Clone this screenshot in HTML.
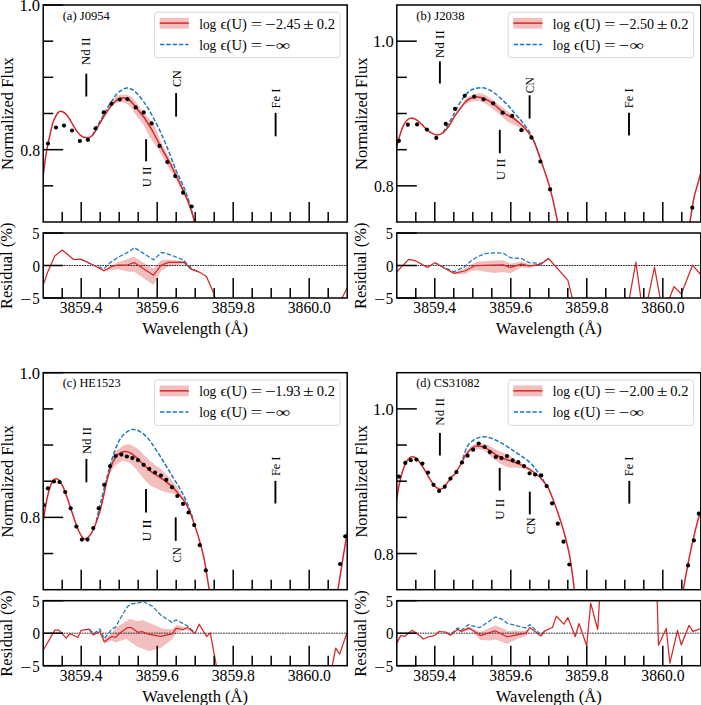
<!DOCTYPE html><html><head><meta charset="utf-8"><style>html,body{margin:0;padding:0;background:#fff;width:701px;height:705px;overflow:hidden}svg{display:block}text{font-family:"Liberation Serif",serif}</style></head><body>
<svg width="701" height="705" viewBox="0 0 701 705">
<rect width="701" height="705" fill="#fff"/>
<clipPath id="c0"><rect x="43.20" y="5.00" width="304.00" height="217.00"/></clipPath>
<clipPath id="r0"><rect x="43.20" y="233.00" width="304.00" height="65.00"/></clipPath>
<g clip-path="url(#c0)">
<path d="M100.00,122.50 C100.67,121.33 102.22,118.42 104.00,115.50 C105.78,112.58 108.63,108.15 110.70,105.00 C112.77,101.85 114.20,98.33 116.40,96.60 C118.60,94.87 121.52,94.60 123.90,94.60 C126.28,94.60 128.85,95.52 130.70,96.60 C132.55,97.68 133.95,99.95 135.00,101.10 C136.05,102.25 135.33,101.35 137.00,103.50 C138.67,105.65 142.18,110.48 145.00,114.00 C147.82,117.52 151.37,120.27 153.90,124.60 C156.43,128.93 157.55,134.35 160.20,140.00 C162.85,145.65 166.77,152.42 169.80,158.50 C172.83,164.58 175.87,170.92 178.40,176.50 C180.93,182.08 182.90,186.92 185.00,192.00 C187.10,197.08 189.33,202.00 191.00,207.00 C192.67,212.00 194.33,219.50 195.00,222.00 L194.00,222.00 C193.33,219.67 191.83,212.67 190.00,208.00 C188.17,203.33 185.37,198.83 183.00,194.00 C180.63,189.17 178.42,183.77 175.80,179.00 C173.18,174.23 170.30,170.52 167.30,165.40 C164.30,160.28 160.62,152.87 157.80,148.30 C154.98,143.73 152.82,141.95 150.40,138.00 C147.98,134.05 145.87,128.65 143.30,124.60 C140.73,120.55 137.10,116.65 135.00,113.70 C132.90,110.75 132.65,108.80 130.70,106.90 C128.75,105.00 125.68,102.97 123.30,102.30 C120.92,101.63 118.50,102.05 116.40,102.90 C114.30,103.75 112.77,105.13 110.70,107.40 C108.63,109.67 105.78,113.98 104.00,116.50 C102.22,119.02 100.67,121.50 100.00,122.50 Z" fill="#f3bebe" stroke="none"/>
<path d="M92.40,135.40 C93.25,133.78 95.85,128.72 97.50,125.70 C99.15,122.68 100.72,120.15 102.30,117.30 C103.88,114.45 105.42,111.30 107.00,108.60 C108.58,105.90 110.20,103.48 111.80,101.10 C113.40,98.72 115.02,96.10 116.60,94.30 C118.18,92.50 119.58,91.35 121.30,90.30 C123.02,89.25 125.00,88.08 126.90,88.00 C128.80,87.92 130.88,88.75 132.70,89.80 C134.52,90.85 136.10,92.48 137.80,94.30 C139.50,96.12 141.18,98.35 142.90,100.70 C144.62,103.05 146.20,105.27 148.10,108.40 C150.00,111.53 152.03,115.13 154.30,119.50 C156.57,123.87 159.22,129.10 161.70,134.60 C164.18,140.10 166.93,146.85 169.20,152.50 C171.47,158.15 173.23,163.53 175.30,168.50 C177.37,173.47 179.57,177.58 181.60,182.30 C183.63,187.02 185.33,190.27 187.50,196.80 C189.67,203.33 193.18,216.30 194.60,221.50 C196.02,226.70 195.77,226.92 196.00,228.00" fill="none" stroke="#1f77b4" stroke-width="1.5" stroke-dasharray="4.4 1.9"/>
<path d="M42.80,180.00 C42.92,178.92 42.97,177.72 43.50,173.50 C44.03,169.28 45.25,159.67 46.00,154.70 C46.75,149.73 47.27,147.35 48.00,143.70 C48.73,140.05 49.58,136.27 50.40,132.80 C51.22,129.33 52.15,125.38 52.90,122.90 C53.65,120.42 53.98,119.65 54.90,117.90 C55.82,116.15 57.23,113.47 58.40,112.40 C59.57,111.33 60.50,111.08 61.90,111.50 C63.30,111.92 65.15,113.00 66.80,114.90 C68.45,116.80 70.30,120.45 71.80,122.90 C73.30,125.35 74.28,127.48 75.80,129.60 C77.32,131.72 79.10,134.25 80.90,135.60 C82.70,136.95 84.68,137.70 86.60,137.70 C88.52,137.70 90.15,138.07 92.40,135.60 C94.65,133.13 97.95,126.43 100.10,122.90 C102.25,119.37 103.58,117.10 105.30,114.40 C107.02,111.70 108.70,108.92 110.40,106.70 C112.10,104.48 113.78,102.50 115.50,101.10 C117.22,99.70 119.27,98.83 120.70,98.30 C122.13,97.77 122.68,97.65 124.10,97.90 C125.52,98.15 127.48,98.55 129.20,99.80 C130.92,101.05 132.68,103.40 134.40,105.40 C136.12,107.40 137.78,109.67 139.50,111.80 C141.22,113.93 142.98,115.77 144.70,118.20 C146.42,120.63 148.32,123.93 149.80,126.40 C151.28,128.87 151.55,129.22 153.60,133.00 C155.65,136.78 159.25,143.85 162.10,149.10 C164.95,154.35 167.88,159.07 170.70,164.50 C173.52,169.93 176.57,176.62 179.00,181.70 C181.43,186.78 183.47,190.83 185.30,195.00 C187.13,199.17 188.45,202.28 190.00,206.70 C191.55,211.12 193.60,217.95 194.60,221.50 C195.60,225.05 195.77,226.92 196.00,228.00" fill="none" stroke="#d62728" stroke-width="1.5"/>
<circle cx="48.00" cy="143.50" r="2.1" fill="#000"/>
<circle cx="56.00" cy="127.50" r="2.1" fill="#000"/>
<circle cx="64.00" cy="125.60" r="2.1" fill="#000"/>
<circle cx="72.00" cy="130.50" r="2.1" fill="#000"/>
<circle cx="79.90" cy="141.00" r="2.1" fill="#000"/>
<circle cx="87.90" cy="139.80" r="2.1" fill="#000"/>
<circle cx="95.60" cy="128.40" r="2.1" fill="#000"/>
<circle cx="103.70" cy="112.40" r="2.1" fill="#000"/>
<circle cx="111.50" cy="103.80" r="2.1" fill="#000"/>
<circle cx="119.70" cy="99.50" r="2.1" fill="#000"/>
<circle cx="127.50" cy="99.20" r="2.1" fill="#000"/>
<circle cx="135.70" cy="107.40" r="2.1" fill="#000"/>
<circle cx="143.70" cy="112.40" r="2.1" fill="#000"/>
<circle cx="151.60" cy="123.40" r="2.1" fill="#000"/>
<circle cx="159.60" cy="145.90" r="2.1" fill="#000"/>
<circle cx="167.40" cy="162.00" r="2.1" fill="#000"/>
<circle cx="175.30" cy="176.10" r="2.1" fill="#000"/>
<circle cx="183.10" cy="192.70" r="2.1" fill="#000"/>
<circle cx="191.70" cy="206.50" r="2.1" fill="#000"/>
</g>
<line x1="86.30" y1="73.70" x2="86.30" y2="96.50" stroke="#000" stroke-width="1.9"/>
<text x="90.00" y="65.17" font-size="12.80" fill="#000" textLength="27.73" lengthAdjust="spacingAndGlyphs" transform="rotate(-90 90.00 65.17)">Nd II</text>
<line x1="146.10" y1="139.20" x2="146.10" y2="161.30" stroke="#000" stroke-width="1.9"/>
<text x="150.90" y="187.26" font-size="12.80" fill="#000" textLength="20.61" lengthAdjust="spacingAndGlyphs" transform="rotate(-90 150.90 187.26)">U II</text>
<line x1="176.10" y1="93.10" x2="176.10" y2="116.60" stroke="#000" stroke-width="1.9"/>
<text x="181.30" y="87.00" font-size="12.80" fill="#000" textLength="16.77" lengthAdjust="spacingAndGlyphs" transform="rotate(-90 181.30 87.00)">CN</text>
<line x1="275.60" y1="112.80" x2="275.60" y2="136.30" stroke="#000" stroke-width="1.9"/>
<text x="280.20" y="108.46" font-size="12.80" fill="#000" textLength="19.90" lengthAdjust="spacingAndGlyphs" transform="rotate(-90 280.20 108.46)">Fe I</text>
<g clip-path="url(#r0)">
<path d="M93.70,265.30 L103.90,270.10 L117.10,262.40 L125.70,259.80 L134.20,256.80 L153.50,268.80 L161.00,260.30 L168.30,259.40 L184.10,261.50 L191.00,269.20 L191.00,269.20 L184.10,263.70 L168.30,266.70 L161.00,271.00 L153.50,285.10 L134.20,271.80 L127.40,271.40 L117.10,269.20 L103.90,271.40 L93.70,265.30 Z" fill="#f3bebe" stroke="none"/>
<line x1="43.20" y1="265.50" x2="347.20" y2="265.50" stroke="#000" stroke-width="0.85" stroke-dasharray="1.7 0.87"/>
<path d="M81.10,259.20 L93.70,265.30 L103.90,268.70 L110.30,262.40 L118.80,256.80 L125.70,253.40 L134.70,247.70 L153.50,259.80 L161.40,252.60 L165.30,253.00 L183.30,259.80 L191.80,268.80 L198.70,271.80" fill="none" stroke="#1f77b4" stroke-width="1.25" stroke-dasharray="4.4 1.9"/>
<path d="M43.00,284.50 L44.00,282.90 L47.40,272.70 L54.80,255.90 L62.30,250.10 L73.70,259.50 L81.10,259.20 L93.70,265.30 L103.90,270.70 L111.10,266.70 L118.00,265.00 L127.40,265.00 L134.20,262.60 L153.50,275.20 L161.00,265.40 L168.30,262.40 L184.10,262.20 L191.00,269.20 L198.70,271.80 L206.40,276.50 L214.10,294.10 L215.50,300.00" fill="none" stroke="#d62728" stroke-width="1.25" stroke-linejoin="round"/>
<path d="M341.00,300.00 L346.00,290.20 L348.00,286.00" fill="none" stroke="#d62728" stroke-width="1.25" stroke-linejoin="round"/>
</g>
<line x1="62.20" y1="222.00" x2="62.20" y2="212.00" stroke="#000" stroke-width="1.5"/>
<line x1="62.20" y1="298.00" x2="62.20" y2="288.00" stroke="#000" stroke-width="1.5"/>
<line x1="81.20" y1="222.00" x2="81.20" y2="202.00" stroke="#000" stroke-width="1.5"/>
<line x1="81.20" y1="298.00" x2="81.20" y2="278.00" stroke="#000" stroke-width="1.5"/>
<line x1="100.20" y1="222.00" x2="100.20" y2="212.00" stroke="#000" stroke-width="1.5"/>
<line x1="100.20" y1="298.00" x2="100.20" y2="288.00" stroke="#000" stroke-width="1.5"/>
<line x1="119.20" y1="222.00" x2="119.20" y2="212.00" stroke="#000" stroke-width="1.5"/>
<line x1="119.20" y1="298.00" x2="119.20" y2="288.00" stroke="#000" stroke-width="1.5"/>
<line x1="138.20" y1="222.00" x2="138.20" y2="212.00" stroke="#000" stroke-width="1.5"/>
<line x1="138.20" y1="298.00" x2="138.20" y2="288.00" stroke="#000" stroke-width="1.5"/>
<line x1="157.20" y1="222.00" x2="157.20" y2="202.00" stroke="#000" stroke-width="1.5"/>
<line x1="157.20" y1="298.00" x2="157.20" y2="278.00" stroke="#000" stroke-width="1.5"/>
<line x1="176.20" y1="222.00" x2="176.20" y2="212.00" stroke="#000" stroke-width="1.5"/>
<line x1="176.20" y1="298.00" x2="176.20" y2="288.00" stroke="#000" stroke-width="1.5"/>
<line x1="195.20" y1="222.00" x2="195.20" y2="212.00" stroke="#000" stroke-width="1.5"/>
<line x1="195.20" y1="298.00" x2="195.20" y2="288.00" stroke="#000" stroke-width="1.5"/>
<line x1="214.20" y1="222.00" x2="214.20" y2="212.00" stroke="#000" stroke-width="1.5"/>
<line x1="214.20" y1="298.00" x2="214.20" y2="288.00" stroke="#000" stroke-width="1.5"/>
<line x1="233.20" y1="222.00" x2="233.20" y2="202.00" stroke="#000" stroke-width="1.5"/>
<line x1="233.20" y1="298.00" x2="233.20" y2="278.00" stroke="#000" stroke-width="1.5"/>
<line x1="252.20" y1="222.00" x2="252.20" y2="212.00" stroke="#000" stroke-width="1.5"/>
<line x1="252.20" y1="298.00" x2="252.20" y2="288.00" stroke="#000" stroke-width="1.5"/>
<line x1="271.20" y1="222.00" x2="271.20" y2="212.00" stroke="#000" stroke-width="1.5"/>
<line x1="271.20" y1="298.00" x2="271.20" y2="288.00" stroke="#000" stroke-width="1.5"/>
<line x1="290.20" y1="222.00" x2="290.20" y2="212.00" stroke="#000" stroke-width="1.5"/>
<line x1="290.20" y1="298.00" x2="290.20" y2="288.00" stroke="#000" stroke-width="1.5"/>
<line x1="309.20" y1="222.00" x2="309.20" y2="202.00" stroke="#000" stroke-width="1.5"/>
<line x1="309.20" y1="298.00" x2="309.20" y2="278.00" stroke="#000" stroke-width="1.5"/>
<line x1="328.20" y1="222.00" x2="328.20" y2="212.00" stroke="#000" stroke-width="1.5"/>
<line x1="328.20" y1="298.00" x2="328.20" y2="288.00" stroke="#000" stroke-width="1.5"/>
<line x1="43.20" y1="185.83" x2="53.20" y2="185.83" stroke="#000" stroke-width="1.5"/>
<line x1="43.20" y1="149.67" x2="63.20" y2="149.67" stroke="#000" stroke-width="1.5"/>
<line x1="43.20" y1="113.50" x2="53.20" y2="113.50" stroke="#000" stroke-width="1.5"/>
<line x1="43.20" y1="77.33" x2="53.20" y2="77.33" stroke="#000" stroke-width="1.5"/>
<line x1="43.20" y1="41.17" x2="53.20" y2="41.17" stroke="#000" stroke-width="1.5"/>
<line x1="43.20" y1="5.00" x2="63.20" y2="5.00" stroke="#000" stroke-width="1.5"/>
<line x1="43.20" y1="298.00" x2="63.20" y2="298.00" stroke="#000" stroke-width="1.5"/>
<line x1="43.20" y1="265.50" x2="63.20" y2="265.50" stroke="#000" stroke-width="1.5"/>
<line x1="43.20" y1="233.00" x2="63.20" y2="233.00" stroke="#000" stroke-width="1.5"/>
<rect x="43.20" y="5.00" width="304.00" height="217.00" fill="none" stroke="#000" stroke-width="1.5"/>
<rect x="43.20" y="233.00" width="304.00" height="65.00" fill="none" stroke="#000" stroke-width="1.5"/>
<text x="20.30" y="155.77" font-size="16.00" fill="#000" textLength="19.81" lengthAdjust="spacingAndGlyphs">0.8</text>
<text x="19.45" y="11.10" font-size="16.00" fill="#000" textLength="20.68" lengthAdjust="spacingAndGlyphs">1.0</text>
<text x="32.26" y="239.20" font-size="16.00" fill="#000" textLength="7.20" lengthAdjust="spacingAndGlyphs">5</text>
<text x="32.52" y="271.50" font-size="16.00" fill="#000" textLength="7.55" lengthAdjust="spacingAndGlyphs">0</text>
<text x="20.32" y="305.20" font-size="16.00" fill="#000" textLength="11.15" lengthAdjust="spacingAndGlyphs">−</text>
<text x="32.23" y="304.20" font-size="16.00" fill="#000" textLength="7.45" lengthAdjust="spacingAndGlyphs">5</text>
<text x="59.76" y="313.10" font-size="16.00" fill="#000" textLength="42.79" lengthAdjust="spacingAndGlyphs">3859.4</text>
<text x="135.75" y="313.10" font-size="16.00" fill="#000" textLength="43.01" lengthAdjust="spacingAndGlyphs">3859.6</text>
<text x="211.75" y="313.10" font-size="16.00" fill="#000" textLength="43.15" lengthAdjust="spacingAndGlyphs">3859.8</text>
<text x="287.75" y="313.10" font-size="16.00" fill="#000" textLength="43.15" lengthAdjust="spacingAndGlyphs">3860.0</text>
<text x="142.18" y="333.90" font-size="16.50" fill="#000" textLength="105.94" lengthAdjust="spacingAndGlyphs">Wavelength (Å)</text>
<text x="13.30" y="169.88" font-size="16.00" fill="#000" textLength="112.28" lengthAdjust="spacingAndGlyphs" transform="rotate(-90 13.30 169.88)">Normalized Flux</text>
<text x="12.50" y="308.97" font-size="16.00" fill="#000" textLength="86.50" lengthAdjust="spacingAndGlyphs" transform="rotate(-90 12.50 308.97)">Residual (%)</text>
<text x="62.65" y="19.60" font-size="12.00" fill="#000" textLength="47.25" lengthAdjust="spacingAndGlyphs">(a) J0954</text>
<rect x="154.60" y="12.20" width="185.50" height="45.50" rx="3" ry="3" fill="#fff" fill-opacity="0.8" stroke="#d9d9d9" stroke-width="1"/>
<rect x="159.70" y="17.80" width="29.1" height="10.8" fill="#f3bebe"/>
<line x1="159.70" y1="23.10" x2="188.80" y2="23.10" stroke="#d62728" stroke-width="1.5"/>
<line x1="160.00" y1="44.40" x2="188.50" y2="44.40" stroke="#1f77b4" stroke-width="1.5" stroke-dasharray="4.4 1.9"/>
<text x="199.23" y="28.70" font-size="14.00" fill="#000" textLength="17.02" lengthAdjust="spacingAndGlyphs">log</text>
<text x="220.43" y="28.70" font-size="14.00" fill="#000" textLength="6.09" lengthAdjust="spacingAndGlyphs">ϵ</text>
<text x="226.56" y="28.70" font-size="14.00" fill="#000" textLength="20.18" lengthAdjust="spacingAndGlyphs">(U)</text>
<text x="250.46" y="28.70" font-size="14.00" fill="#000" textLength="11.76" lengthAdjust="spacingAndGlyphs">=</text>
<text x="265.26" y="28.70" font-size="14.00" fill="#000" textLength="10.67" lengthAdjust="spacingAndGlyphs">−</text>
<text x="275.98" y="28.70" font-size="14.00" fill="#000" textLength="24.57" lengthAdjust="spacingAndGlyphs">2.45</text>
<text x="303.08" y="28.70" font-size="14.00" fill="#000" textLength="10.85" lengthAdjust="spacingAndGlyphs">±</text>
<text x="316.75" y="28.70" font-size="14.00" fill="#000" textLength="18.15" lengthAdjust="spacingAndGlyphs">0.2</text>
<text x="199.23" y="49.60" font-size="14.00" fill="#000" textLength="17.02" lengthAdjust="spacingAndGlyphs">log</text>
<text x="220.43" y="49.60" font-size="14.00" fill="#000" textLength="6.09" lengthAdjust="spacingAndGlyphs">ϵ</text>
<text x="226.56" y="49.60" font-size="14.00" fill="#000" textLength="20.18" lengthAdjust="spacingAndGlyphs">(U)</text>
<text x="250.46" y="49.60" font-size="14.00" fill="#000" textLength="11.76" lengthAdjust="spacingAndGlyphs">=</text>
<text x="265.26" y="49.60" font-size="14.00" fill="#000" textLength="10.67" lengthAdjust="spacingAndGlyphs">−</text>
<text x="275.84" y="49.60" font-size="14.00" fill="#000" textLength="14.43" lengthAdjust="spacingAndGlyphs">∞</text>
<clipPath id="c1"><rect x="396.80" y="5.00" width="304.00" height="217.00"/></clipPath>
<clipPath id="r1"><rect x="396.80" y="233.00" width="304.00" height="65.00"/></clipPath>
<g clip-path="url(#c1)">
<path d="M455.10,115.20 C455.97,113.78 458.30,109.62 460.30,106.70 C462.30,103.78 464.25,99.92 467.10,97.70 C469.95,95.48 474.25,93.77 477.40,93.40 C480.55,93.03 482.87,94.00 486.00,95.50 C489.13,97.00 493.07,100.12 496.20,102.40 C499.33,104.68 502.50,107.42 504.80,109.20 C507.10,110.98 508.53,112.07 510.00,113.10 C511.47,114.13 511.58,113.45 513.60,115.40 C515.62,117.35 519.37,121.70 522.10,124.80 C524.83,127.90 528.68,132.47 530.00,134.00 L530.00,134.50 C528.68,133.60 524.83,130.72 522.10,129.10 C519.37,127.48 515.62,125.82 513.60,124.80 C511.58,123.78 511.47,123.88 510.00,123.00 C508.53,122.12 507.10,121.37 504.80,119.50 C502.50,117.63 499.33,114.37 496.20,111.80 C493.07,109.23 489.13,105.88 486.00,104.10 C482.87,102.32 480.55,101.23 477.40,101.10 C474.25,100.97 469.95,101.87 467.10,103.30 C464.25,104.73 462.30,107.55 460.30,109.70 C458.30,111.85 455.97,115.12 455.10,116.20 Z" fill="#f3bebe" stroke="none"/>
<path d="M442.90,132.60 C444.08,130.70 447.97,124.67 450.00,121.20 C452.03,117.73 453.38,114.93 455.10,111.80 C456.82,108.67 458.58,105.18 460.30,102.40 C462.02,99.62 463.70,97.10 465.40,95.10 C467.10,93.10 468.78,91.53 470.50,90.40 C472.22,89.27 473.83,88.75 475.70,88.30 C477.57,87.85 479.70,87.57 481.70,87.70 C483.70,87.83 485.57,88.22 487.70,89.10 C489.83,89.98 492.22,91.35 494.50,93.00 C496.78,94.65 499.12,96.87 501.40,99.00 C503.68,101.13 506.17,103.63 508.20,105.80 C510.23,107.97 511.28,109.33 513.60,112.00 C515.92,114.67 519.40,118.38 522.10,121.80 C524.80,125.22 527.65,128.85 529.80,132.50 C531.95,136.15 532.83,138.12 535.00,143.70 C537.17,149.28 541.50,162.28 542.80,166.00" fill="none" stroke="#1f77b4" stroke-width="1.5" stroke-dasharray="4.4 1.9"/>
<path d="M395.50,152.00 C395.70,151.08 395.93,149.42 396.70,146.50 C397.47,143.58 398.95,138.07 400.10,134.50 C401.25,130.93 402.32,127.60 403.60,125.10 C404.88,122.60 406.38,120.67 407.80,119.50 C409.22,118.33 410.52,117.95 412.10,118.10 C413.68,118.25 415.58,119.23 417.30,120.40 C419.02,121.57 420.70,123.47 422.40,125.10 C424.10,126.73 425.78,128.77 427.50,130.20 C429.22,131.63 431.12,132.90 432.70,133.70 C434.28,134.50 435.30,135.15 437.00,135.00 C438.70,134.85 440.92,134.30 442.90,132.80 C444.88,131.30 446.87,128.85 448.90,126.00 C450.93,123.15 453.20,118.63 455.10,115.70 C457.00,112.77 458.58,110.68 460.30,108.40 C462.02,106.12 463.70,103.68 465.40,102.00 C467.10,100.32 468.78,99.12 470.50,98.30 C472.22,97.48 473.98,97.25 475.70,97.10 C477.42,96.95 479.08,97.02 480.80,97.40 C482.52,97.78 484.28,98.60 486.00,99.40 C487.72,100.20 489.40,101.05 491.10,102.20 C492.80,103.35 494.48,104.83 496.20,106.30 C497.92,107.77 499.68,109.62 501.40,111.00 C503.12,112.38 504.47,113.37 506.50,114.60 C508.53,115.83 511.00,116.62 513.60,118.40 C516.20,120.18 519.53,122.80 522.10,125.30 C524.67,127.80 526.85,130.33 529.00,133.40 C531.15,136.47 532.70,138.27 535.00,143.70 C537.30,149.13 540.45,159.10 542.80,166.00 C545.15,172.90 547.33,179.08 549.10,185.10 C550.87,191.12 552.02,196.12 553.40,202.10 C554.78,208.08 556.55,216.68 557.40,221.00 C558.25,225.32 558.32,226.83 558.50,228.00" fill="none" stroke="#d62728" stroke-width="1.5"/>
<path d="M689.00,228.00 C689.17,226.93 689.17,226.65 690.00,221.60 C690.83,216.55 692.77,203.77 694.00,197.70 C695.23,191.63 696.37,188.98 697.40,185.20 C698.43,181.42 699.43,177.87 700.20,175.00 C700.97,172.13 701.70,169.17 702.00,168.00" fill="none" stroke="#d62728" stroke-width="1.5"/>
<circle cx="398.90" cy="140.80" r="2.1" fill="#000"/>
<circle cx="407.80" cy="124.70" r="2.1" fill="#000"/>
<circle cx="417.10" cy="124.40" r="2.1" fill="#000"/>
<circle cx="426.90" cy="129.60" r="2.1" fill="#000"/>
<circle cx="436.30" cy="137.90" r="2.1" fill="#000"/>
<circle cx="445.70" cy="123.80" r="2.1" fill="#000"/>
<circle cx="455.00" cy="108.80" r="2.1" fill="#000"/>
<circle cx="464.70" cy="95.80" r="2.1" fill="#000"/>
<circle cx="474.20" cy="96.70" r="2.1" fill="#000"/>
<circle cx="483.60" cy="99.30" r="2.1" fill="#000"/>
<circle cx="493.20" cy="103.30" r="2.1" fill="#000"/>
<circle cx="502.70" cy="112.70" r="2.1" fill="#000"/>
<circle cx="512.20" cy="115.90" r="2.1" fill="#000"/>
<circle cx="521.40" cy="130.20" r="2.1" fill="#000"/>
<circle cx="531.40" cy="137.60" r="2.1" fill="#000"/>
<circle cx="540.40" cy="161.50" r="2.1" fill="#000"/>
<circle cx="550.10" cy="189.40" r="2.1" fill="#000"/>
<circle cx="692.30" cy="207.70" r="2.1" fill="#000"/>
</g>
<line x1="439.90" y1="61.40" x2="439.90" y2="83.50" stroke="#000" stroke-width="1.9"/>
<text x="444.40" y="58.18" font-size="12.80" fill="#000" textLength="27.94" lengthAdjust="spacingAndGlyphs" transform="rotate(-90 444.40 58.18)">Nd II</text>
<line x1="499.80" y1="129.80" x2="499.80" y2="153.30" stroke="#000" stroke-width="1.9"/>
<text x="505.00" y="180.28" font-size="12.80" fill="#000" textLength="21.54" lengthAdjust="spacingAndGlyphs" transform="rotate(-90 505.00 180.28)">U II</text>
<line x1="529.60" y1="95.30" x2="529.60" y2="118.50" stroke="#000" stroke-width="1.9"/>
<text x="534.20" y="93.17" font-size="12.80" fill="#000" textLength="15.93" lengthAdjust="spacingAndGlyphs" transform="rotate(-90 534.20 93.17)">CN</text>
<line x1="629.00" y1="112.80" x2="629.00" y2="135.60" stroke="#000" stroke-width="1.9"/>
<text x="633.00" y="108.16" font-size="12.80" fill="#000" textLength="19.70" lengthAdjust="spacingAndGlyphs" transform="rotate(-90 633.00 108.16)">Fe I</text>
<g clip-path="url(#r1)">
<path d="M444.10,268.00 L453.80,272.50 L464.60,269.10 L470.00,265.10 L476.80,261.70 L494.00,260.50 L503.10,260.30 L510.50,263.40 L521.40,261.50 L529.40,264.50 L540.80,264.20 L540.80,264.90 L529.40,268.00 L521.40,267.40 L510.50,273.30 L503.10,272.00 L494.00,273.10 L476.80,270.30 L470.00,271.40 L464.60,274.20 L453.80,274.20 L444.10,268.00 Z" fill="#f3bebe" stroke="none"/>
<line x1="396.80" y1="265.50" x2="700.80" y2="265.50" stroke="#000" stroke-width="0.85" stroke-dasharray="1.7 0.87"/>
<path d="M435.00,262.80 L444.10,267.40 L453.80,271.70 L464.60,266.80 L470.00,261.70 L476.80,257.10 L484.80,253.70 L494.00,252.80 L503.10,253.10 L510.50,257.70 L521.40,258.50 L529.40,262.80 L540.80,263.40 L548.60,258.50" fill="none" stroke="#1f77b4" stroke-width="1.25" stroke-dasharray="4.4 1.9"/>
<path d="M396.50,272.50 L397.30,271.40 L408.70,259.40 L415.50,260.80 L427.50,267.40 L435.00,262.80 L444.10,268.00 L453.80,273.30 L464.60,271.00 L475.00,265.70 L483.70,265.30 L503.10,264.90 L510.50,267.40 L521.40,264.20 L529.40,266.00 L540.80,264.20 L548.60,258.50 L567.80,280.10 L573.50,303.00" fill="none" stroke="#d62728" stroke-width="1.25" stroke-linejoin="round"/>
<path d="M628.50,303.00 L635.90,262.10 L641.50,303.00 L647.00,303.00 L654.50,267.20 L661.00,303.00 L667.50,303.00 L674.10,286.60 L681.30,294.00 L692.50,265.20 L701.00,275.00" fill="none" stroke="#d62728" stroke-width="1.25" stroke-linejoin="round"/>
<path d="M585.50,300.00 L586.50,296.30 L587.50,300.00" fill="none" stroke="#d62728" stroke-width="1.25" stroke-linejoin="round"/>
</g>
<line x1="415.80" y1="222.00" x2="415.80" y2="212.00" stroke="#000" stroke-width="1.5"/>
<line x1="415.80" y1="298.00" x2="415.80" y2="288.00" stroke="#000" stroke-width="1.5"/>
<line x1="434.80" y1="222.00" x2="434.80" y2="202.00" stroke="#000" stroke-width="1.5"/>
<line x1="434.80" y1="298.00" x2="434.80" y2="278.00" stroke="#000" stroke-width="1.5"/>
<line x1="453.80" y1="222.00" x2="453.80" y2="212.00" stroke="#000" stroke-width="1.5"/>
<line x1="453.80" y1="298.00" x2="453.80" y2="288.00" stroke="#000" stroke-width="1.5"/>
<line x1="472.80" y1="222.00" x2="472.80" y2="212.00" stroke="#000" stroke-width="1.5"/>
<line x1="472.80" y1="298.00" x2="472.80" y2="288.00" stroke="#000" stroke-width="1.5"/>
<line x1="491.80" y1="222.00" x2="491.80" y2="212.00" stroke="#000" stroke-width="1.5"/>
<line x1="491.80" y1="298.00" x2="491.80" y2="288.00" stroke="#000" stroke-width="1.5"/>
<line x1="510.80" y1="222.00" x2="510.80" y2="202.00" stroke="#000" stroke-width="1.5"/>
<line x1="510.80" y1="298.00" x2="510.80" y2="278.00" stroke="#000" stroke-width="1.5"/>
<line x1="529.80" y1="222.00" x2="529.80" y2="212.00" stroke="#000" stroke-width="1.5"/>
<line x1="529.80" y1="298.00" x2="529.80" y2="288.00" stroke="#000" stroke-width="1.5"/>
<line x1="548.80" y1="222.00" x2="548.80" y2="212.00" stroke="#000" stroke-width="1.5"/>
<line x1="548.80" y1="298.00" x2="548.80" y2="288.00" stroke="#000" stroke-width="1.5"/>
<line x1="567.80" y1="222.00" x2="567.80" y2="212.00" stroke="#000" stroke-width="1.5"/>
<line x1="567.80" y1="298.00" x2="567.80" y2="288.00" stroke="#000" stroke-width="1.5"/>
<line x1="586.80" y1="222.00" x2="586.80" y2="202.00" stroke="#000" stroke-width="1.5"/>
<line x1="586.80" y1="298.00" x2="586.80" y2="278.00" stroke="#000" stroke-width="1.5"/>
<line x1="605.80" y1="222.00" x2="605.80" y2="212.00" stroke="#000" stroke-width="1.5"/>
<line x1="605.80" y1="298.00" x2="605.80" y2="288.00" stroke="#000" stroke-width="1.5"/>
<line x1="624.80" y1="222.00" x2="624.80" y2="212.00" stroke="#000" stroke-width="1.5"/>
<line x1="624.80" y1="298.00" x2="624.80" y2="288.00" stroke="#000" stroke-width="1.5"/>
<line x1="643.80" y1="222.00" x2="643.80" y2="212.00" stroke="#000" stroke-width="1.5"/>
<line x1="643.80" y1="298.00" x2="643.80" y2="288.00" stroke="#000" stroke-width="1.5"/>
<line x1="662.80" y1="222.00" x2="662.80" y2="202.00" stroke="#000" stroke-width="1.5"/>
<line x1="662.80" y1="298.00" x2="662.80" y2="278.00" stroke="#000" stroke-width="1.5"/>
<line x1="681.80" y1="222.00" x2="681.80" y2="212.00" stroke="#000" stroke-width="1.5"/>
<line x1="681.80" y1="298.00" x2="681.80" y2="288.00" stroke="#000" stroke-width="1.5"/>
<line x1="396.80" y1="185.83" x2="416.80" y2="185.83" stroke="#000" stroke-width="1.5"/>
<line x1="396.80" y1="149.67" x2="406.80" y2="149.67" stroke="#000" stroke-width="1.5"/>
<line x1="396.80" y1="113.50" x2="406.80" y2="113.50" stroke="#000" stroke-width="1.5"/>
<line x1="396.80" y1="77.33" x2="406.80" y2="77.33" stroke="#000" stroke-width="1.5"/>
<line x1="396.80" y1="41.17" x2="416.80" y2="41.17" stroke="#000" stroke-width="1.5"/>
<line x1="396.80" y1="298.00" x2="416.80" y2="298.00" stroke="#000" stroke-width="1.5"/>
<line x1="396.80" y1="265.50" x2="416.80" y2="265.50" stroke="#000" stroke-width="1.5"/>
<line x1="396.80" y1="233.00" x2="416.80" y2="233.00" stroke="#000" stroke-width="1.5"/>
<rect x="396.80" y="5.00" width="304.00" height="217.00" fill="none" stroke="#000" stroke-width="1.5"/>
<rect x="396.80" y="233.00" width="304.00" height="65.00" fill="none" stroke="#000" stroke-width="1.5"/>
<text x="373.90" y="191.93" font-size="16.00" fill="#000" textLength="19.81" lengthAdjust="spacingAndGlyphs">0.8</text>
<text x="373.05" y="47.27" font-size="16.00" fill="#000" textLength="20.68" lengthAdjust="spacingAndGlyphs">1.0</text>
<text x="385.86" y="239.20" font-size="16.00" fill="#000" textLength="7.20" lengthAdjust="spacingAndGlyphs">5</text>
<text x="386.12" y="271.50" font-size="16.00" fill="#000" textLength="7.55" lengthAdjust="spacingAndGlyphs">0</text>
<text x="373.92" y="305.20" font-size="16.00" fill="#000" textLength="11.15" lengthAdjust="spacingAndGlyphs">−</text>
<text x="385.83" y="304.20" font-size="16.00" fill="#000" textLength="7.45" lengthAdjust="spacingAndGlyphs">5</text>
<text x="413.36" y="313.10" font-size="16.00" fill="#000" textLength="42.79" lengthAdjust="spacingAndGlyphs">3859.4</text>
<text x="489.35" y="313.10" font-size="16.00" fill="#000" textLength="43.01" lengthAdjust="spacingAndGlyphs">3859.6</text>
<text x="565.35" y="313.10" font-size="16.00" fill="#000" textLength="43.15" lengthAdjust="spacingAndGlyphs">3859.8</text>
<text x="641.35" y="313.10" font-size="16.00" fill="#000" textLength="43.15" lengthAdjust="spacingAndGlyphs">3860.0</text>
<text x="495.78" y="333.90" font-size="16.50" fill="#000" textLength="105.94" lengthAdjust="spacingAndGlyphs">Wavelength (Å)</text>
<text x="366.90" y="169.88" font-size="16.00" fill="#000" textLength="112.28" lengthAdjust="spacingAndGlyphs" transform="rotate(-90 366.90 169.88)">Normalized Flux</text>
<text x="366.10" y="308.97" font-size="16.00" fill="#000" textLength="86.50" lengthAdjust="spacingAndGlyphs" transform="rotate(-90 366.10 308.97)">Residual (%)</text>
<text x="416.24" y="19.60" font-size="12.00" fill="#000" textLength="48.34" lengthAdjust="spacingAndGlyphs">(b) J2038</text>
<rect x="508.20" y="12.20" width="185.50" height="45.50" rx="3" ry="3" fill="#fff" fill-opacity="0.8" stroke="#d9d9d9" stroke-width="1"/>
<rect x="513.30" y="17.80" width="29.1" height="10.8" fill="#f3bebe"/>
<line x1="513.30" y1="23.10" x2="542.40" y2="23.10" stroke="#d62728" stroke-width="1.5"/>
<line x1="513.60" y1="44.40" x2="542.10" y2="44.40" stroke="#1f77b4" stroke-width="1.5" stroke-dasharray="4.4 1.9"/>
<text x="552.83" y="28.70" font-size="14.00" fill="#000" textLength="17.02" lengthAdjust="spacingAndGlyphs">log</text>
<text x="574.03" y="28.70" font-size="14.00" fill="#000" textLength="6.09" lengthAdjust="spacingAndGlyphs">ϵ</text>
<text x="580.16" y="28.70" font-size="14.00" fill="#000" textLength="20.18" lengthAdjust="spacingAndGlyphs">(U)</text>
<text x="604.06" y="28.70" font-size="14.00" fill="#000" textLength="11.76" lengthAdjust="spacingAndGlyphs">=</text>
<text x="618.86" y="28.70" font-size="14.00" fill="#000" textLength="10.67" lengthAdjust="spacingAndGlyphs">−</text>
<text x="629.58" y="28.70" font-size="14.00" fill="#000" textLength="24.55" lengthAdjust="spacingAndGlyphs">2.50</text>
<text x="656.68" y="28.70" font-size="14.00" fill="#000" textLength="10.85" lengthAdjust="spacingAndGlyphs">±</text>
<text x="670.35" y="28.70" font-size="14.00" fill="#000" textLength="18.15" lengthAdjust="spacingAndGlyphs">0.2</text>
<text x="552.83" y="49.60" font-size="14.00" fill="#000" textLength="17.02" lengthAdjust="spacingAndGlyphs">log</text>
<text x="574.03" y="49.60" font-size="14.00" fill="#000" textLength="6.09" lengthAdjust="spacingAndGlyphs">ϵ</text>
<text x="580.16" y="49.60" font-size="14.00" fill="#000" textLength="20.18" lengthAdjust="spacingAndGlyphs">(U)</text>
<text x="604.06" y="49.60" font-size="14.00" fill="#000" textLength="11.76" lengthAdjust="spacingAndGlyphs">=</text>
<text x="618.86" y="49.60" font-size="14.00" fill="#000" textLength="10.67" lengthAdjust="spacingAndGlyphs">−</text>
<text x="629.44" y="49.60" font-size="14.00" fill="#000" textLength="14.43" lengthAdjust="spacingAndGlyphs">∞</text>
<clipPath id="c2"><rect x="43.20" y="372.70" width="304.00" height="217.00"/></clipPath>
<clipPath id="r2"><rect x="43.20" y="600.70" width="304.00" height="65.00"/></clipPath>
<g clip-path="url(#c2)">
<path d="M102.00,500.00 C102.97,496.08 105.77,484.10 107.80,476.50 C109.83,468.90 112.08,459.25 114.20,454.40 C116.32,449.55 118.17,449.10 120.50,447.40 C122.83,445.70 125.43,444.00 128.20,444.20 C130.97,444.40 134.12,446.48 137.10,448.60 C140.08,450.72 143.22,454.23 146.10,456.90 C148.98,459.57 151.62,462.27 154.40,464.60 C157.18,466.93 159.28,467.52 162.80,470.90 C166.32,474.28 172.32,480.87 175.50,484.90 C178.68,488.93 180.15,492.08 181.90,495.10 C183.65,498.12 185.32,501.68 186.00,503.00 L186.00,503.00 C185.12,501.90 182.45,497.82 180.70,496.40 C178.95,494.98 178.48,495.35 175.50,494.50 C172.52,493.65 166.32,492.45 162.80,491.30 C159.28,490.15 156.55,488.65 154.40,487.60 C152.25,486.55 151.72,486.50 149.90,485.00 C148.08,483.50 146.27,481.78 143.50,478.60 C140.73,475.42 136.48,468.83 133.30,465.90 C130.12,462.97 126.53,461.65 124.40,461.00 C122.27,460.35 122.20,460.98 120.50,462.00 C118.80,463.02 116.32,464.35 114.20,467.10 C112.08,469.85 109.83,473.02 107.80,478.50 C105.77,483.98 102.97,496.42 102.00,500.00 Z" fill="#f3bebe" stroke="none"/>
<path d="M96.20,521.50 C96.63,519.67 97.30,516.72 98.80,510.50 C100.30,504.28 103.07,492.53 105.20,484.20 C107.33,475.87 109.47,467.38 111.60,460.50 C113.73,453.62 115.87,447.33 118.00,442.90 C120.13,438.47 122.07,436.13 124.40,433.90 C126.73,431.67 129.45,429.92 132.00,429.50 C134.55,429.08 137.13,430.02 139.70,431.40 C142.27,432.78 144.95,435.17 147.40,437.80 C149.85,440.43 151.42,442.75 154.40,447.20 C157.38,451.65 162.20,459.48 165.30,464.50 C168.40,469.52 170.43,473.05 173.00,477.30 C175.57,481.55 178.37,485.75 180.70,490.00 C183.03,494.25 184.98,498.13 187.00,502.80 C189.02,507.47 191.83,515.47 192.80,518.00" fill="none" stroke="#1f77b4" stroke-width="1.5" stroke-dasharray="4.4 1.9"/>
<path d="M42.50,527.00 C42.72,525.38 43.15,521.48 43.80,517.30 C44.45,513.12 45.43,506.70 46.40,501.90 C47.37,497.10 48.53,492.00 49.60,488.50 C50.67,485.00 51.73,482.53 52.80,480.90 C53.87,479.27 54.93,478.82 56.00,478.70 C57.07,478.58 58.03,478.88 59.20,480.20 C60.37,481.52 61.73,483.83 63.00,486.60 C64.27,489.37 65.52,493.18 66.80,496.80 C68.08,500.42 69.42,504.47 70.70,508.30 C71.98,512.13 73.23,516.18 74.50,519.80 C75.77,523.42 77.03,527.13 78.30,530.00 C79.57,532.87 81.03,535.50 82.10,537.00 C83.17,538.50 83.63,539.00 84.70,539.00 C85.77,539.00 87.22,538.28 88.50,537.00 C89.78,535.72 91.12,533.73 92.40,531.30 C93.68,528.87 94.93,525.80 96.20,522.40 C97.47,519.00 98.92,514.63 100.00,510.90 C101.08,507.17 101.40,505.58 102.70,500.00 C104.00,494.42 106.10,483.73 107.80,477.40 C109.50,471.07 111.20,465.83 112.90,462.00 C114.60,458.17 116.08,456.13 118.00,454.40 C119.92,452.67 122.27,451.82 124.40,451.60 C126.53,451.38 128.68,452.00 130.80,453.10 C132.92,454.20 134.98,456.28 137.10,458.20 C139.22,460.12 141.37,462.53 143.50,464.60 C145.63,466.67 147.53,468.70 149.90,470.60 C152.27,472.50 155.13,474.25 157.70,476.00 C160.27,477.75 162.75,479.18 165.30,481.10 C167.85,483.02 170.65,485.17 173.00,487.50 C175.35,489.83 177.48,492.77 179.40,495.10 C181.32,497.43 182.90,499.05 184.50,501.50 C186.10,503.95 187.62,506.75 189.00,509.80 C190.38,512.85 191.10,514.85 192.80,519.80 C194.50,524.75 197.28,532.82 199.20,539.50 C201.12,546.18 202.65,551.60 204.30,559.90 C205.95,568.20 208.15,583.28 209.10,589.30 C210.05,595.32 209.85,594.88 210.00,596.00" fill="none" stroke="#d62728" stroke-width="1.5"/>
<path d="M337.00,596.00 C337.17,594.92 336.48,599.02 338.00,589.50 C339.52,579.98 344.43,548.65 346.10,538.90 C347.77,529.15 347.68,532.32 348.00,531.00" fill="none" stroke="#d62728" stroke-width="1.5"/>
<circle cx="43.80" cy="505.10" r="2.1" fill="#000"/>
<circle cx="47.90" cy="488.30" r="2.1" fill="#000"/>
<circle cx="54.00" cy="481.50" r="2.1" fill="#000"/>
<circle cx="59.50" cy="482.10" r="2.1" fill="#000"/>
<circle cx="65.20" cy="492.00" r="2.1" fill="#000"/>
<circle cx="70.70" cy="508.30" r="2.1" fill="#000"/>
<circle cx="76.40" cy="526.60" r="2.1" fill="#000"/>
<circle cx="81.90" cy="539.60" r="2.1" fill="#000"/>
<circle cx="87.50" cy="539.60" r="2.1" fill="#000"/>
<circle cx="93.30" cy="528.10" r="2.1" fill="#000"/>
<circle cx="98.70" cy="508.30" r="2.1" fill="#000"/>
<circle cx="104.20" cy="484.80" r="2.1" fill="#000"/>
<circle cx="110.10" cy="466.10" r="2.1" fill="#000"/>
<circle cx="115.70" cy="456.00" r="2.1" fill="#000"/>
<circle cx="121.40" cy="454.60" r="2.1" fill="#000"/>
<circle cx="126.90" cy="456.50" r="2.1" fill="#000"/>
<circle cx="132.40" cy="458.10" r="2.1" fill="#000"/>
<circle cx="138.00" cy="460.10" r="2.1" fill="#000"/>
<circle cx="143.60" cy="464.80" r="2.1" fill="#000"/>
<circle cx="149.30" cy="468.80" r="2.1" fill="#000"/>
<circle cx="155.00" cy="472.50" r="2.1" fill="#000"/>
<circle cx="160.90" cy="475.60" r="2.1" fill="#000"/>
<circle cx="166.30" cy="479.80" r="2.1" fill="#000"/>
<circle cx="172.00" cy="487.20" r="2.1" fill="#000"/>
<circle cx="177.30" cy="496.00" r="2.1" fill="#000"/>
<circle cx="183.00" cy="503.90" r="2.1" fill="#000"/>
<circle cx="188.50" cy="512.50" r="2.1" fill="#000"/>
<circle cx="194.20" cy="525.10" r="2.1" fill="#000"/>
<circle cx="199.80" cy="545.20" r="2.1" fill="#000"/>
<circle cx="205.80" cy="570.40" r="2.1" fill="#000"/>
<circle cx="340.10" cy="564.00" r="2.1" fill="#000"/>
<circle cx="345.30" cy="536.30" r="2.1" fill="#000"/>
</g>
<line x1="86.40" y1="458.90" x2="86.40" y2="482.30" stroke="#000" stroke-width="1.9"/>
<text x="90.80" y="454.37" font-size="12.80" fill="#000" textLength="27.42" lengthAdjust="spacingAndGlyphs" transform="rotate(-90 90.80 454.37)">Nd II</text>
<line x1="146.00" y1="489.10" x2="146.00" y2="512.60" stroke="#000" stroke-width="1.9"/>
<text x="151.50" y="541.58" font-size="12.80" fill="#000" textLength="22.06" lengthAdjust="spacingAndGlyphs" transform="rotate(-90 151.50 541.58)">U II</text>
<line x1="175.70" y1="517.40" x2="175.70" y2="540.90" stroke="#000" stroke-width="1.9"/>
<text x="180.80" y="562.55" font-size="12.80" fill="#000" textLength="15.10" lengthAdjust="spacingAndGlyphs" transform="rotate(-90 180.80 562.55)">CN</text>
<line x1="275.40" y1="480.80" x2="275.40" y2="503.50" stroke="#000" stroke-width="1.9"/>
<text x="279.90" y="476.05" font-size="12.80" fill="#000" textLength="19.49" lengthAdjust="spacingAndGlyphs" transform="rotate(-90 279.90 476.05)">Fe I</text>
<g clip-path="url(#r2)">
<path d="M104.20,639.20 L111.90,633.50 L115.00,628.10 L129.80,619.00 L137.80,621.30 L142.40,620.10 L153.80,624.70 L163.00,628.70 L172.10,629.20 L176.60,624.90 L185.80,627.50 L195.00,633.20 L195.00,633.20 L185.80,629.80 L176.60,632.70 L172.10,639.50 L160.70,648.10 L149.20,651.00 L137.80,647.00 L126.40,639.00 L115.00,642.40 L111.90,640.40 L104.20,643.80 Z" fill="#f3bebe" stroke="none"/>
<line x1="43.20" y1="633.20" x2="347.20" y2="633.20" stroke="#000" stroke-width="0.85" stroke-dasharray="1.7 0.87"/>
<path d="M89.10,629.20 L93.70,633.50 L99.90,629.00 L104.20,638.70 L111.90,629.00 L115.30,627.30 L120.70,617.80 L127.60,606.40 L131.60,603.90 L137.80,603.20 L143.00,601.30 L152.70,606.40 L160.70,615.00 L172.10,622.40 L176.10,619.90 L186.90,625.60 L195.10,632.70" fill="none" stroke="#1f77b4" stroke-width="1.25" stroke-dasharray="4.4 1.9"/>
<path d="M43.00,650.50 L44.00,649.00 L54.80,630.10 L58.80,630.10 L66.30,638.10 L69.90,633.50 L77.70,637.50 L81.30,630.30 L89.10,629.20 L93.10,634.90 L99.90,631.50 L104.20,641.80 L111.90,636.40 L115.30,637.50 L119.60,633.20 L127.60,627.50 L131.00,627.50 L138.40,632.40 L141.80,631.50 L149.20,634.40 L160.70,636.30 L172.10,633.80 L176.10,628.30 L183.50,629.50 L187.50,627.50 L195.10,633.30 L199.10,624.20 L206.60,636.50 L210.30,632.90 L217.50,672.00" fill="none" stroke="#d62728" stroke-width="1.25" stroke-linejoin="round"/>
<path d="M331.00,672.00 L335.70,648.10 L339.70,654.10 L346.10,635.20 L348.00,631.00" fill="none" stroke="#d62728" stroke-width="1.25" stroke-linejoin="round"/>
</g>
<line x1="62.20" y1="589.70" x2="62.20" y2="579.70" stroke="#000" stroke-width="1.5"/>
<line x1="62.20" y1="665.70" x2="62.20" y2="655.70" stroke="#000" stroke-width="1.5"/>
<line x1="81.20" y1="589.70" x2="81.20" y2="569.70" stroke="#000" stroke-width="1.5"/>
<line x1="81.20" y1="665.70" x2="81.20" y2="645.70" stroke="#000" stroke-width="1.5"/>
<line x1="100.20" y1="589.70" x2="100.20" y2="579.70" stroke="#000" stroke-width="1.5"/>
<line x1="100.20" y1="665.70" x2="100.20" y2="655.70" stroke="#000" stroke-width="1.5"/>
<line x1="119.20" y1="589.70" x2="119.20" y2="579.70" stroke="#000" stroke-width="1.5"/>
<line x1="119.20" y1="665.70" x2="119.20" y2="655.70" stroke="#000" stroke-width="1.5"/>
<line x1="138.20" y1="589.70" x2="138.20" y2="579.70" stroke="#000" stroke-width="1.5"/>
<line x1="138.20" y1="665.70" x2="138.20" y2="655.70" stroke="#000" stroke-width="1.5"/>
<line x1="157.20" y1="589.70" x2="157.20" y2="569.70" stroke="#000" stroke-width="1.5"/>
<line x1="157.20" y1="665.70" x2="157.20" y2="645.70" stroke="#000" stroke-width="1.5"/>
<line x1="176.20" y1="589.70" x2="176.20" y2="579.70" stroke="#000" stroke-width="1.5"/>
<line x1="176.20" y1="665.70" x2="176.20" y2="655.70" stroke="#000" stroke-width="1.5"/>
<line x1="195.20" y1="589.70" x2="195.20" y2="579.70" stroke="#000" stroke-width="1.5"/>
<line x1="195.20" y1="665.70" x2="195.20" y2="655.70" stroke="#000" stroke-width="1.5"/>
<line x1="214.20" y1="589.70" x2="214.20" y2="579.70" stroke="#000" stroke-width="1.5"/>
<line x1="214.20" y1="665.70" x2="214.20" y2="655.70" stroke="#000" stroke-width="1.5"/>
<line x1="233.20" y1="589.70" x2="233.20" y2="569.70" stroke="#000" stroke-width="1.5"/>
<line x1="233.20" y1="665.70" x2="233.20" y2="645.70" stroke="#000" stroke-width="1.5"/>
<line x1="252.20" y1="589.70" x2="252.20" y2="579.70" stroke="#000" stroke-width="1.5"/>
<line x1="252.20" y1="665.70" x2="252.20" y2="655.70" stroke="#000" stroke-width="1.5"/>
<line x1="271.20" y1="589.70" x2="271.20" y2="579.70" stroke="#000" stroke-width="1.5"/>
<line x1="271.20" y1="665.70" x2="271.20" y2="655.70" stroke="#000" stroke-width="1.5"/>
<line x1="290.20" y1="589.70" x2="290.20" y2="579.70" stroke="#000" stroke-width="1.5"/>
<line x1="290.20" y1="665.70" x2="290.20" y2="655.70" stroke="#000" stroke-width="1.5"/>
<line x1="309.20" y1="589.70" x2="309.20" y2="569.70" stroke="#000" stroke-width="1.5"/>
<line x1="309.20" y1="665.70" x2="309.20" y2="645.70" stroke="#000" stroke-width="1.5"/>
<line x1="328.20" y1="589.70" x2="328.20" y2="579.70" stroke="#000" stroke-width="1.5"/>
<line x1="328.20" y1="665.70" x2="328.20" y2="655.70" stroke="#000" stroke-width="1.5"/>
<line x1="43.20" y1="553.53" x2="53.20" y2="553.53" stroke="#000" stroke-width="1.5"/>
<line x1="43.20" y1="517.37" x2="63.20" y2="517.37" stroke="#000" stroke-width="1.5"/>
<line x1="43.20" y1="481.20" x2="53.20" y2="481.20" stroke="#000" stroke-width="1.5"/>
<line x1="43.20" y1="445.03" x2="53.20" y2="445.03" stroke="#000" stroke-width="1.5"/>
<line x1="43.20" y1="408.87" x2="53.20" y2="408.87" stroke="#000" stroke-width="1.5"/>
<line x1="43.20" y1="372.70" x2="63.20" y2="372.70" stroke="#000" stroke-width="1.5"/>
<line x1="43.20" y1="665.70" x2="63.20" y2="665.70" stroke="#000" stroke-width="1.5"/>
<line x1="43.20" y1="633.20" x2="63.20" y2="633.20" stroke="#000" stroke-width="1.5"/>
<line x1="43.20" y1="600.70" x2="63.20" y2="600.70" stroke="#000" stroke-width="1.5"/>
<rect x="43.20" y="372.70" width="304.00" height="217.00" fill="none" stroke="#000" stroke-width="1.5"/>
<rect x="43.20" y="600.70" width="304.00" height="65.00" fill="none" stroke="#000" stroke-width="1.5"/>
<text x="20.30" y="523.47" font-size="16.00" fill="#000" textLength="19.81" lengthAdjust="spacingAndGlyphs">0.8</text>
<text x="19.45" y="378.80" font-size="16.00" fill="#000" textLength="20.68" lengthAdjust="spacingAndGlyphs">1.0</text>
<text x="32.26" y="606.90" font-size="16.00" fill="#000" textLength="7.20" lengthAdjust="spacingAndGlyphs">5</text>
<text x="32.52" y="639.20" font-size="16.00" fill="#000" textLength="7.55" lengthAdjust="spacingAndGlyphs">0</text>
<text x="20.32" y="672.90" font-size="16.00" fill="#000" textLength="11.15" lengthAdjust="spacingAndGlyphs">−</text>
<text x="32.23" y="671.90" font-size="16.00" fill="#000" textLength="7.45" lengthAdjust="spacingAndGlyphs">5</text>
<text x="59.76" y="680.80" font-size="16.00" fill="#000" textLength="42.79" lengthAdjust="spacingAndGlyphs">3859.4</text>
<text x="135.75" y="680.80" font-size="16.00" fill="#000" textLength="43.01" lengthAdjust="spacingAndGlyphs">3859.6</text>
<text x="211.75" y="680.80" font-size="16.00" fill="#000" textLength="43.15" lengthAdjust="spacingAndGlyphs">3859.8</text>
<text x="287.75" y="680.80" font-size="16.00" fill="#000" textLength="43.15" lengthAdjust="spacingAndGlyphs">3860.0</text>
<text x="142.18" y="701.60" font-size="16.50" fill="#000" textLength="105.94" lengthAdjust="spacingAndGlyphs">Wavelength (Å)</text>
<text x="13.30" y="537.58" font-size="16.00" fill="#000" textLength="112.28" lengthAdjust="spacingAndGlyphs" transform="rotate(-90 13.30 537.58)">Normalized Flux</text>
<text x="12.50" y="676.67" font-size="16.00" fill="#000" textLength="86.50" lengthAdjust="spacingAndGlyphs" transform="rotate(-90 12.50 676.67)">Residual (%)</text>
<text x="62.66" y="387.30" font-size="12.00" fill="#000" textLength="57.92" lengthAdjust="spacingAndGlyphs">(c) HE1523</text>
<rect x="154.60" y="379.90" width="185.50" height="45.50" rx="3" ry="3" fill="#fff" fill-opacity="0.8" stroke="#d9d9d9" stroke-width="1"/>
<rect x="159.70" y="385.50" width="29.1" height="10.8" fill="#f3bebe"/>
<line x1="159.70" y1="390.80" x2="188.80" y2="390.80" stroke="#d62728" stroke-width="1.5"/>
<line x1="160.00" y1="412.10" x2="188.50" y2="412.10" stroke="#1f77b4" stroke-width="1.5" stroke-dasharray="4.4 1.9"/>
<text x="199.23" y="396.40" font-size="14.00" fill="#000" textLength="17.02" lengthAdjust="spacingAndGlyphs">log</text>
<text x="220.43" y="396.40" font-size="14.00" fill="#000" textLength="6.09" lengthAdjust="spacingAndGlyphs">ϵ</text>
<text x="226.56" y="396.40" font-size="14.00" fill="#000" textLength="20.18" lengthAdjust="spacingAndGlyphs">(U)</text>
<text x="250.46" y="396.40" font-size="14.00" fill="#000" textLength="11.76" lengthAdjust="spacingAndGlyphs">=</text>
<text x="265.26" y="396.40" font-size="14.00" fill="#000" textLength="10.67" lengthAdjust="spacingAndGlyphs">−</text>
<text x="275.33" y="396.40" font-size="14.00" fill="#000" textLength="25.23" lengthAdjust="spacingAndGlyphs">1.93</text>
<text x="303.08" y="396.40" font-size="14.00" fill="#000" textLength="10.85" lengthAdjust="spacingAndGlyphs">±</text>
<text x="316.75" y="396.40" font-size="14.00" fill="#000" textLength="18.15" lengthAdjust="spacingAndGlyphs">0.2</text>
<text x="199.23" y="417.30" font-size="14.00" fill="#000" textLength="17.02" lengthAdjust="spacingAndGlyphs">log</text>
<text x="220.43" y="417.30" font-size="14.00" fill="#000" textLength="6.09" lengthAdjust="spacingAndGlyphs">ϵ</text>
<text x="226.56" y="417.30" font-size="14.00" fill="#000" textLength="20.18" lengthAdjust="spacingAndGlyphs">(U)</text>
<text x="250.46" y="417.30" font-size="14.00" fill="#000" textLength="11.76" lengthAdjust="spacingAndGlyphs">=</text>
<text x="265.26" y="417.30" font-size="14.00" fill="#000" textLength="10.67" lengthAdjust="spacingAndGlyphs">−</text>
<text x="275.84" y="417.30" font-size="14.00" fill="#000" textLength="14.43" lengthAdjust="spacingAndGlyphs">∞</text>
<clipPath id="c3"><rect x="396.80" y="372.70" width="304.00" height="217.00"/></clipPath>
<clipPath id="r3"><rect x="396.80" y="600.70" width="304.00" height="65.00"/></clipPath>
<g clip-path="url(#c3)">
<path d="M465.40,455.20 C466.25,453.85 468.50,449.08 470.50,447.10 C472.50,445.12 475.12,443.87 477.40,443.30 C479.68,442.73 481.92,443.13 484.20,443.70 C486.48,444.27 488.82,445.57 491.10,446.70 C493.38,447.83 495.62,449.37 497.90,450.50 C500.18,451.63 502.78,452.67 504.80,453.50 C506.82,454.33 508.53,454.58 510.00,455.50 C511.47,456.42 511.58,457.70 513.60,459.00 C515.62,460.30 519.25,461.67 522.10,463.30 C524.95,464.93 528.55,467.18 530.70,468.80 C532.85,470.42 534.28,472.30 535.00,473.00 L535.00,473.50 C534.28,473.02 532.85,471.45 530.70,470.60 C528.55,469.75 524.95,468.92 522.10,468.40 C519.25,467.88 515.62,467.62 513.60,467.50 C511.58,467.38 511.47,467.95 510.00,467.70 C508.53,467.45 506.82,466.93 504.80,466.00 C502.78,465.07 500.18,463.68 497.90,462.10 C495.62,460.52 493.38,458.38 491.10,456.50 C488.82,454.62 486.48,452.00 484.20,450.80 C481.92,449.60 479.68,449.20 477.40,449.30 C475.12,449.40 472.50,450.25 470.50,451.40 C468.50,452.55 466.25,455.40 465.40,456.20 Z" fill="#f3bebe" stroke="none"/>
<path d="M460.30,464.50 C460.72,463.55 461.67,461.77 462.80,458.80 C463.93,455.83 465.52,449.65 467.10,446.70 C468.68,443.75 470.58,442.53 472.30,441.10 C474.02,439.67 475.42,438.82 477.40,438.10 C479.38,437.38 481.92,436.80 484.20,436.80 C486.48,436.80 488.82,437.38 491.10,438.10 C493.38,438.82 495.62,439.95 497.90,441.10 C500.18,442.25 502.78,443.78 504.80,445.00 C506.82,446.22 508.53,447.43 510.00,448.40 C511.47,449.37 511.58,449.47 513.60,450.80 C515.62,452.13 519.25,454.32 522.10,456.40 C524.95,458.48 528.13,460.73 530.70,463.30 C533.27,465.87 535.50,469.10 537.50,471.80 C539.50,474.50 540.98,476.93 542.70,479.50 C544.42,482.07 546.95,485.92 547.80,487.20" fill="none" stroke="#1f77b4" stroke-width="1.5" stroke-dasharray="4.4 1.9"/>
<path d="M396.00,503.00 C396.18,501.83 396.55,499.17 397.10,496.00 C397.65,492.83 398.43,488.00 399.30,484.00 C400.17,480.00 401.30,475.28 402.30,472.00 C403.30,468.72 404.30,466.47 405.30,464.30 C406.30,462.13 407.17,460.25 408.30,459.00 C409.43,457.75 410.75,456.88 412.10,456.80 C413.45,456.72 414.97,457.35 416.40,458.50 C417.83,459.65 419.27,461.70 420.70,463.70 C422.13,465.70 423.58,468.12 425.00,470.50 C426.42,472.88 427.63,475.47 429.20,478.00 C430.77,480.53 432.82,483.92 434.40,485.70 C435.98,487.48 437.27,488.27 438.70,488.70 C440.13,489.13 441.58,489.23 443.00,488.30 C444.42,487.37 445.78,484.97 447.20,483.10 C448.62,481.23 450.18,478.67 451.50,477.10 C452.82,475.53 453.63,475.70 455.10,473.70 C456.57,471.70 458.58,468.10 460.30,465.10 C462.02,462.10 463.70,458.33 465.40,455.70 C467.10,453.07 468.78,450.90 470.50,449.30 C472.22,447.70 473.98,446.60 475.70,446.10 C477.42,445.60 479.08,445.95 480.80,446.30 C482.52,446.65 484.28,447.35 486.00,448.20 C487.72,449.05 489.40,450.30 491.10,451.40 C492.80,452.50 494.48,453.73 496.20,454.80 C497.92,455.87 499.68,457.02 501.40,457.80 C503.12,458.58 504.47,458.80 506.50,459.50 C508.53,460.20 511.00,461.02 513.60,462.00 C516.20,462.98 519.25,464.05 522.10,465.40 C524.95,466.75 528.13,468.47 530.70,470.10 C533.27,471.73 535.50,473.48 537.50,475.20 C539.50,476.92 540.98,478.40 542.70,480.40 C544.42,482.40 546.37,484.77 547.80,487.20 C549.23,489.63 549.63,490.77 551.30,495.00 C552.97,499.23 555.62,506.13 557.80,512.60 C559.98,519.07 562.35,526.18 564.40,533.80 C566.45,541.42 568.47,549.18 570.10,558.30 C571.73,567.42 573.38,582.22 574.20,588.50 C575.02,594.78 574.87,594.75 575.00,596.00" fill="none" stroke="#d62728" stroke-width="1.5"/>
<path d="M682.50,596.00 C682.63,594.93 682.48,594.37 683.30,589.60 C684.12,584.83 686.05,574.47 687.40,567.40 C688.75,560.33 690.05,553.50 691.40,547.20 C692.75,540.90 694.10,535.22 695.50,529.60 C696.90,523.98 698.72,517.43 699.80,513.50 C700.88,509.57 701.63,507.25 702.00,506.00" fill="none" stroke="#d62728" stroke-width="1.5"/>
<circle cx="398.90" cy="476.60" r="2.1" fill="#000"/>
<circle cx="405.30" cy="462.90" r="2.1" fill="#000"/>
<circle cx="410.80" cy="460.20" r="2.1" fill="#000"/>
<circle cx="416.40" cy="459.60" r="2.1" fill="#000"/>
<circle cx="422.40" cy="463.60" r="2.1" fill="#000"/>
<circle cx="428.00" cy="472.60" r="2.1" fill="#000"/>
<circle cx="433.50" cy="484.80" r="2.1" fill="#000"/>
<circle cx="439.10" cy="491.00" r="2.1" fill="#000"/>
<circle cx="444.70" cy="486.70" r="2.1" fill="#000"/>
<circle cx="450.50" cy="478.60" r="2.1" fill="#000"/>
<circle cx="456.40" cy="472.10" r="2.1" fill="#000"/>
<circle cx="462.00" cy="462.50" r="2.1" fill="#000"/>
<circle cx="467.60" cy="455.70" r="2.1" fill="#000"/>
<circle cx="473.10" cy="449.70" r="2.1" fill="#000"/>
<circle cx="478.70" cy="443.50" r="2.1" fill="#000"/>
<circle cx="484.70" cy="447.00" r="2.1" fill="#000"/>
<circle cx="489.80" cy="452.10" r="2.1" fill="#000"/>
<circle cx="495.80" cy="457.00" r="2.1" fill="#000"/>
<circle cx="501.40" cy="458.10" r="2.1" fill="#000"/>
<circle cx="507.00" cy="456.10" r="2.1" fill="#000"/>
<circle cx="512.70" cy="460.30" r="2.1" fill="#000"/>
<circle cx="518.30" cy="462.20" r="2.1" fill="#000"/>
<circle cx="524.00" cy="466.00" r="2.1" fill="#000"/>
<circle cx="529.60" cy="473.30" r="2.1" fill="#000"/>
<circle cx="535.10" cy="474.60" r="2.1" fill="#000"/>
<circle cx="541.20" cy="475.40" r="2.1" fill="#000"/>
<circle cx="546.60" cy="486.10" r="2.1" fill="#000"/>
<circle cx="552.10" cy="503.30" r="2.1" fill="#000"/>
<circle cx="557.80" cy="523.70" r="2.1" fill="#000"/>
<circle cx="563.50" cy="541.70" r="2.1" fill="#000"/>
<circle cx="569.30" cy="564.50" r="2.1" fill="#000"/>
<circle cx="688.10" cy="565.40" r="2.1" fill="#000"/>
<circle cx="693.90" cy="540.40" r="2.1" fill="#000"/>
<circle cx="698.80" cy="513.70" r="2.1" fill="#000"/>
</g>
<line x1="439.90" y1="432.90" x2="439.90" y2="455.50" stroke="#000" stroke-width="1.9"/>
<text x="443.80" y="425.67" font-size="12.80" fill="#000" textLength="27.73" lengthAdjust="spacingAndGlyphs" transform="rotate(-90 443.80 425.67)">Nd II</text>
<line x1="499.70" y1="467.90" x2="499.70" y2="490.60" stroke="#000" stroke-width="1.9"/>
<text x="504.50" y="519.77" font-size="12.80" fill="#000" textLength="21.12" lengthAdjust="spacingAndGlyphs" transform="rotate(-90 504.50 519.77)">U II</text>
<line x1="529.80" y1="491.70" x2="529.80" y2="514.40" stroke="#000" stroke-width="1.9"/>
<text x="535.10" y="534.19" font-size="12.80" fill="#000" textLength="16.67" lengthAdjust="spacingAndGlyphs" transform="rotate(-90 535.10 534.19)">CN</text>
<line x1="629.30" y1="480.90" x2="629.30" y2="503.60" stroke="#000" stroke-width="1.9"/>
<text x="633.50" y="476.16" font-size="12.80" fill="#000" textLength="19.59" lengthAdjust="spacingAndGlyphs" transform="rotate(-90 633.50 476.16)">Fe I</text>
<g clip-path="url(#r3)">
<path d="M457.80,628.20 L461.20,630.50 L468.60,626.80 L470.00,627.40 L480.30,632.00 L484.80,629.90 L495.70,625.30 L503.10,628.50 L507.70,631.00 L515.70,630.60 L525.90,630.80 L529.90,627.60 L529.90,627.60 L527.00,635.40 L517.90,638.80 L507.10,644.00 L495.70,639.40 L491.70,640.50 L480.30,640.00 L470.00,629.70 L468.60,630.50 L461.20,632.50 L457.80,630.20 Z" fill="#f3bebe" stroke="none"/>
<line x1="396.80" y1="633.20" x2="700.80" y2="633.20" stroke="#000" stroke-width="0.85" stroke-dasharray="1.7 0.87"/>
<path d="M445.80,632.20 L450.40,634.50 L457.80,627.80 L461.20,630.30 L468.60,624.60 L470.00,625.30 L479.70,627.60 L495.70,616.90 L502.00,619.40 L507.70,623.40 L525.90,628.00 L529.90,624.50 L540.80,634.80 L545.30,630.30" fill="none" stroke="#1f77b4" stroke-width="1.25" stroke-dasharray="4.4 1.9"/>
<path d="M396.50,644.00 L397.30,642.10 L400.70,635.60 L404.70,636.40 L412.10,630.30 L416.70,633.30 L423.50,639.00 L428.10,637.00 L435.00,635.30 L439.00,631.50 L445.80,632.20 L450.40,635.30 L457.80,629.20 L461.20,631.50 L468.60,628.10 L470.00,628.50 L480.30,635.60 L495.10,630.80 L507.10,636.80 L525.90,633.10 L529.90,627.60 L540.80,636.00 L545.30,630.60 L552.40,627.50 L556.40,616.10 L563.80,624.10 L567.80,617.60 L575.30,636.70 L579.00,623.50 L586.70,645.80 L590.70,603.20 L597.70,629.50 L599.90,594.00" fill="none" stroke="#d62728" stroke-width="1.25" stroke-linejoin="round"/>
<path d="M657.00,594.00 L657.20,600.80 L658.50,645.30 L666.20,628.50 L669.90,663.20 L677.50,630.30 L681.30,645.00 L689.10,625.30 L692.80,631.40 L701.00,628.50" fill="none" stroke="#d62728" stroke-width="1.25" stroke-linejoin="round"/>
</g>
<line x1="415.80" y1="589.70" x2="415.80" y2="579.70" stroke="#000" stroke-width="1.5"/>
<line x1="415.80" y1="665.70" x2="415.80" y2="655.70" stroke="#000" stroke-width="1.5"/>
<line x1="434.80" y1="589.70" x2="434.80" y2="569.70" stroke="#000" stroke-width="1.5"/>
<line x1="434.80" y1="665.70" x2="434.80" y2="645.70" stroke="#000" stroke-width="1.5"/>
<line x1="453.80" y1="589.70" x2="453.80" y2="579.70" stroke="#000" stroke-width="1.5"/>
<line x1="453.80" y1="665.70" x2="453.80" y2="655.70" stroke="#000" stroke-width="1.5"/>
<line x1="472.80" y1="589.70" x2="472.80" y2="579.70" stroke="#000" stroke-width="1.5"/>
<line x1="472.80" y1="665.70" x2="472.80" y2="655.70" stroke="#000" stroke-width="1.5"/>
<line x1="491.80" y1="589.70" x2="491.80" y2="579.70" stroke="#000" stroke-width="1.5"/>
<line x1="491.80" y1="665.70" x2="491.80" y2="655.70" stroke="#000" stroke-width="1.5"/>
<line x1="510.80" y1="589.70" x2="510.80" y2="569.70" stroke="#000" stroke-width="1.5"/>
<line x1="510.80" y1="665.70" x2="510.80" y2="645.70" stroke="#000" stroke-width="1.5"/>
<line x1="529.80" y1="589.70" x2="529.80" y2="579.70" stroke="#000" stroke-width="1.5"/>
<line x1="529.80" y1="665.70" x2="529.80" y2="655.70" stroke="#000" stroke-width="1.5"/>
<line x1="548.80" y1="589.70" x2="548.80" y2="579.70" stroke="#000" stroke-width="1.5"/>
<line x1="548.80" y1="665.70" x2="548.80" y2="655.70" stroke="#000" stroke-width="1.5"/>
<line x1="567.80" y1="589.70" x2="567.80" y2="579.70" stroke="#000" stroke-width="1.5"/>
<line x1="567.80" y1="665.70" x2="567.80" y2="655.70" stroke="#000" stroke-width="1.5"/>
<line x1="586.80" y1="589.70" x2="586.80" y2="569.70" stroke="#000" stroke-width="1.5"/>
<line x1="586.80" y1="665.70" x2="586.80" y2="645.70" stroke="#000" stroke-width="1.5"/>
<line x1="605.80" y1="589.70" x2="605.80" y2="579.70" stroke="#000" stroke-width="1.5"/>
<line x1="605.80" y1="665.70" x2="605.80" y2="655.70" stroke="#000" stroke-width="1.5"/>
<line x1="624.80" y1="589.70" x2="624.80" y2="579.70" stroke="#000" stroke-width="1.5"/>
<line x1="624.80" y1="665.70" x2="624.80" y2="655.70" stroke="#000" stroke-width="1.5"/>
<line x1="643.80" y1="589.70" x2="643.80" y2="579.70" stroke="#000" stroke-width="1.5"/>
<line x1="643.80" y1="665.70" x2="643.80" y2="655.70" stroke="#000" stroke-width="1.5"/>
<line x1="662.80" y1="589.70" x2="662.80" y2="569.70" stroke="#000" stroke-width="1.5"/>
<line x1="662.80" y1="665.70" x2="662.80" y2="645.70" stroke="#000" stroke-width="1.5"/>
<line x1="681.80" y1="589.70" x2="681.80" y2="579.70" stroke="#000" stroke-width="1.5"/>
<line x1="681.80" y1="665.70" x2="681.80" y2="655.70" stroke="#000" stroke-width="1.5"/>
<line x1="396.80" y1="553.53" x2="416.80" y2="553.53" stroke="#000" stroke-width="1.5"/>
<line x1="396.80" y1="517.37" x2="406.80" y2="517.37" stroke="#000" stroke-width="1.5"/>
<line x1="396.80" y1="481.20" x2="406.80" y2="481.20" stroke="#000" stroke-width="1.5"/>
<line x1="396.80" y1="445.03" x2="406.80" y2="445.03" stroke="#000" stroke-width="1.5"/>
<line x1="396.80" y1="408.87" x2="416.80" y2="408.87" stroke="#000" stroke-width="1.5"/>
<line x1="396.80" y1="665.70" x2="416.80" y2="665.70" stroke="#000" stroke-width="1.5"/>
<line x1="396.80" y1="633.20" x2="416.80" y2="633.20" stroke="#000" stroke-width="1.5"/>
<line x1="396.80" y1="600.70" x2="416.80" y2="600.70" stroke="#000" stroke-width="1.5"/>
<rect x="396.80" y="372.70" width="304.00" height="217.00" fill="none" stroke="#000" stroke-width="1.5"/>
<rect x="396.80" y="600.70" width="304.00" height="65.00" fill="none" stroke="#000" stroke-width="1.5"/>
<text x="373.90" y="559.63" font-size="16.00" fill="#000" textLength="19.81" lengthAdjust="spacingAndGlyphs">0.8</text>
<text x="373.05" y="414.97" font-size="16.00" fill="#000" textLength="20.68" lengthAdjust="spacingAndGlyphs">1.0</text>
<text x="385.86" y="606.90" font-size="16.00" fill="#000" textLength="7.20" lengthAdjust="spacingAndGlyphs">5</text>
<text x="386.12" y="639.20" font-size="16.00" fill="#000" textLength="7.55" lengthAdjust="spacingAndGlyphs">0</text>
<text x="373.92" y="672.90" font-size="16.00" fill="#000" textLength="11.15" lengthAdjust="spacingAndGlyphs">−</text>
<text x="385.83" y="671.90" font-size="16.00" fill="#000" textLength="7.45" lengthAdjust="spacingAndGlyphs">5</text>
<text x="413.36" y="680.80" font-size="16.00" fill="#000" textLength="42.79" lengthAdjust="spacingAndGlyphs">3859.4</text>
<text x="489.35" y="680.80" font-size="16.00" fill="#000" textLength="43.01" lengthAdjust="spacingAndGlyphs">3859.6</text>
<text x="565.35" y="680.80" font-size="16.00" fill="#000" textLength="43.15" lengthAdjust="spacingAndGlyphs">3859.8</text>
<text x="641.35" y="680.80" font-size="16.00" fill="#000" textLength="43.15" lengthAdjust="spacingAndGlyphs">3860.0</text>
<text x="495.78" y="701.60" font-size="16.50" fill="#000" textLength="105.94" lengthAdjust="spacingAndGlyphs">Wavelength (Å)</text>
<text x="366.90" y="537.58" font-size="16.00" fill="#000" textLength="112.28" lengthAdjust="spacingAndGlyphs" transform="rotate(-90 366.90 537.58)">Normalized Flux</text>
<text x="366.10" y="676.67" font-size="16.00" fill="#000" textLength="86.50" lengthAdjust="spacingAndGlyphs" transform="rotate(-90 366.10 676.67)">Residual (%)</text>
<text x="416.26" y="387.30" font-size="12.00" fill="#000" textLength="63.32" lengthAdjust="spacingAndGlyphs">(d) CS31082</text>
<rect x="508.20" y="379.90" width="185.50" height="45.50" rx="3" ry="3" fill="#fff" fill-opacity="0.8" stroke="#d9d9d9" stroke-width="1"/>
<rect x="513.30" y="385.50" width="29.1" height="10.8" fill="#f3bebe"/>
<line x1="513.30" y1="390.80" x2="542.40" y2="390.80" stroke="#d62728" stroke-width="1.5"/>
<line x1="513.60" y1="412.10" x2="542.10" y2="412.10" stroke="#1f77b4" stroke-width="1.5" stroke-dasharray="4.4 1.9"/>
<text x="552.83" y="396.40" font-size="14.00" fill="#000" textLength="17.02" lengthAdjust="spacingAndGlyphs">log</text>
<text x="574.03" y="396.40" font-size="14.00" fill="#000" textLength="6.09" lengthAdjust="spacingAndGlyphs">ϵ</text>
<text x="580.16" y="396.40" font-size="14.00" fill="#000" textLength="20.18" lengthAdjust="spacingAndGlyphs">(U)</text>
<text x="604.06" y="396.40" font-size="14.00" fill="#000" textLength="11.76" lengthAdjust="spacingAndGlyphs">=</text>
<text x="618.86" y="396.40" font-size="14.00" fill="#000" textLength="10.67" lengthAdjust="spacingAndGlyphs">−</text>
<text x="629.58" y="396.40" font-size="14.00" fill="#000" textLength="24.55" lengthAdjust="spacingAndGlyphs">2.00</text>
<text x="656.68" y="396.40" font-size="14.00" fill="#000" textLength="10.85" lengthAdjust="spacingAndGlyphs">±</text>
<text x="670.35" y="396.40" font-size="14.00" fill="#000" textLength="18.15" lengthAdjust="spacingAndGlyphs">0.2</text>
<text x="552.83" y="417.30" font-size="14.00" fill="#000" textLength="17.02" lengthAdjust="spacingAndGlyphs">log</text>
<text x="574.03" y="417.30" font-size="14.00" fill="#000" textLength="6.09" lengthAdjust="spacingAndGlyphs">ϵ</text>
<text x="580.16" y="417.30" font-size="14.00" fill="#000" textLength="20.18" lengthAdjust="spacingAndGlyphs">(U)</text>
<text x="604.06" y="417.30" font-size="14.00" fill="#000" textLength="11.76" lengthAdjust="spacingAndGlyphs">=</text>
<text x="618.86" y="417.30" font-size="14.00" fill="#000" textLength="10.67" lengthAdjust="spacingAndGlyphs">−</text>
<text x="629.44" y="417.30" font-size="14.00" fill="#000" textLength="14.43" lengthAdjust="spacingAndGlyphs">∞</text>
</svg></body></html>
